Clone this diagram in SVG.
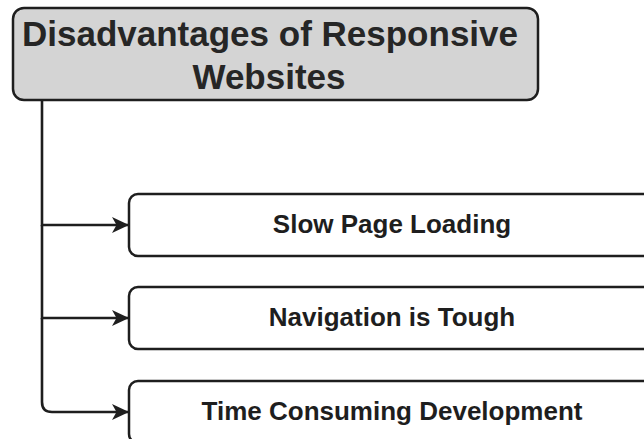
<svg xmlns="http://www.w3.org/2000/svg" width="644" height="439" viewBox="0 0 644 439">
  <style>
    .title-box { fill: #d4d4d4; stroke: #1e1e1e; stroke-width: 2.5; }
    .item-box { fill: #ffffff; stroke: #1e1e1e; stroke-width: 2.5; }
    .title-text { font-family: "Liberation Sans", Arial, sans-serif; font-weight: bold; font-size: 35px; fill: #262626; text-anchor: middle; }
    .item-text { font-family: "Liberation Sans", Arial, sans-serif; font-weight: bold; font-size: 26px; fill: #1e1e1e; text-anchor: middle; }
    .link { fill: none; stroke: #1e1e1e; stroke-width: 2.6; }
  </style>
  <defs>
    <marker id="arrow" viewBox="0 0 17 16" refX="16" refY="8" markerWidth="17" markerHeight="16" markerUnits="userSpaceOnUse" orient="auto">
      <path d="M0,0 L17,8 L0,16 L4.5,8 Z" fill="#1e1e1e"/>
    </marker>
  </defs>
  <rect width="644" height="439" fill="#ffffff"/>

  <g id="connectors">
    <path class="link" d="M42,100 V225 H128" marker-end="url(#arrow)"/>
    <path class="link" d="M42,225 V318 H128" marker-end="url(#arrow)"/>
    <path class="link" d="M42,318 V402 Q42,412 52,412 H128" marker-end="url(#arrow)"/>
  </g>

  <g id="title">
    <rect class="title-box" x="13" y="8" width="525" height="92" rx="11"/>
    <text class="title-text" x="270" y="46">Disadvantages of Responsive</text>
    <text class="title-text" x="269" y="89">Websites</text>
  </g>

  <g id="slow-page-loading">
    <rect class="item-box" x="129" y="194" width="530" height="62" rx="9"/>
    <text class="item-text" x="392" y="233">Slow Page Loading</text>
  </g>

  <g id="navigation-is-tough">
    <rect class="item-box" x="129" y="287" width="530" height="62" rx="9"/>
    <text class="item-text" x="392" y="326">Navigation is Tough</text>
  </g>

  <g id="time-consuming-development">
    <rect class="item-box" x="129" y="381" width="530" height="62" rx="9"/>
    <text class="item-text" x="392" y="420">Time Consuming Development</text>
  </g>
</svg>
